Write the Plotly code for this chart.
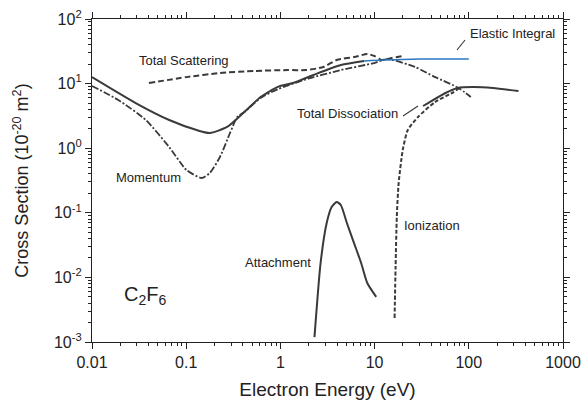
import plotly.graph_objects as go

# ---- data (energy in eV, cross section in 1e-20 m^2) ----
elastic_E = [0.01, 0.0291, 0.066, 0.129, 0.178, 0.272, 0.414, 0.616, 0.94, 1.36, 2.24, 4.38, 7.75]
elastic_S = [12.6, 5.0, 2.73, 1.91, 1.72, 2.13, 3.63, 6.2, 8.9, 10.2, 13.6, 19.4, 22.4]
elastic_int_E = [7.75, 12.7, 30.0, 100.0]
elastic_int_S = [22.4, 23.2, 24.0, 24.0]

momentum_E = [0.01, 0.019, 0.0373, 0.066, 0.1007, 0.146, 0.178, 0.228, 0.292, 0.348, 0.414,
              0.616, 0.94, 2.0, 4.38, 9.9, 13.7, 26.8, 44.0, 78.0, 105.0]
momentum_S = [9.2, 5.57, 2.73, 1.04, 0.46, 0.346, 0.413, 0.73, 1.72, 3.04, 3.63,
              6.0, 8.2, 12.0, 16.2, 20.8, 24.0, 18.1, 12.6, 8.55, 6.2]

scatter_E = [0.0402, 0.1007, 0.228, 0.53, 1.2, 1.88, 2.87, 3.96, 6.05, 8.36, 9.9, 11.8, 15.2, 20.0]
scatter_S = [10.2, 12.6, 14.6, 15.7, 16.2, 16.2, 18.1, 23.2, 25.8, 28.7, 26.8, 23.2, 24.9, 26.8]

dissoc_E = [32.7, 37.0, 56.5, 76.0, 110.0, 181.0, 337.0]
dissoc_S = [4.5, 5.0, 7.15, 8.55, 8.86, 8.55, 7.67]

ion_E = [16.3, 16.7, 17.2, 18.0, 19.9, 22.5, 28.9, 44.0, 69.0, 80.0]
ion_S = [0.00236, 0.0145, 0.086, 0.289, 0.94, 1.91, 3.04, 5.2, 7.4, 8.6]

attach_E = [2.30, 2.67, 3.10, 3.50, 3.96, 4.38, 5.08, 6.05, 7.2, 8.36, 10.4]
attach_S = [0.00119, 0.0167, 0.0695, 0.123, 0.147, 0.132, 0.0695, 0.034, 0.0167, 0.0082, 0.0050]

x_tickvals = [0.01, 0.1, 1, 10, 100, 1000]
x_ticktext = ["0.01", "0.1", "1", "10", "100", "1000"]
y_tickvals = [1e-3, 1e-2, 1e-1, 1, 10, 100]
y_ticktext = ["10<sup>-3</sup>", "10<sup>-2</sup>", "10<sup>-1</sup>",
              "10<sup>0</sup>", "10<sup>1</sup>", "10<sup>2</sup>"]
minor_digits = [2, 3, 4, 5, 6, 7, 8, 9]

DARK = "#3a3a3a"
BLUE = "#2b78c2"
FONT = "Liberation Sans, Arial, sans-serif"

fig = go.Figure()

def add(x, y, color=DARK, width=2, dash="solid"):
    fig.add_trace(go.Scatter(x=x, y=y, mode="lines", line=dict(color=color, width=width, dash=dash,
                                                                shape="spline", smoothing=0.6),
                             showlegend=False, hoverinfo="skip"))

add(scatter_E, scatter_S, width=2, dash="6px,3px")
add(momentum_E, momentum_S, width=1.8, dash="7px,2px,2px,2px")
add(elastic_E, elastic_S, width=2)
add(elastic_int_E, elastic_int_S, color=BLUE, width=1.6)
add(ion_E, ion_S, width=2, dash="4px,2px")
add(dissoc_E, dissoc_S, width=2)
add(attach_E, attach_S, width=2)

L, R, T, B = 92, 21, 19, 58
W, H = 584, 400
pw, ph = W - L - R, H - T - B

def px(x):
    return (x - L) / pw

def py(y):
    return (H - B - y) / ph

TXT = dict(family=FONT, size=13, color="#222")

labels = [
    ("Total Scattering", 184, 61),
    ("Elastic Integral", 512, 34),
    ("Total Dissociation", 347, 114),
    ("Momentum", 148, 177),
    ("Attachment", 278, 262),
    ("Ionization", 432, 225),
]
for text, x, y in labels:
    fig.add_annotation(text=text, x=px(x), y=py(y), xref="paper", yref="paper",
                       showarrow=False, font=TXT, xanchor="center", yanchor="middle")

fig.add_annotation(text="C<sub>2</sub>F<sub>6</sub>", x=px(145), y=py(295), xref="paper", yref="paper",
                   showarrow=False, xanchor="center", yanchor="middle",
                   font=dict(family=FONT, size=20, color="#222"))

# leader lines
for (x0, y0, x1, y1) in [(457, 50, 465, 40), (403, 116, 418, 106)]:
    fig.add_shape(type="line", xref="paper", yref="paper",
                  x0=px(x0), y0=py(y0), x1=px(x1), y1=py(y1),
                  line=dict(color=DARK, width=1.2))

def minor_vals(lo, hi):
    return [d * 10 ** e for e in range(lo, hi) for d in minor_digits]

def axis_common(mv):
    return dict(
        type="log", showgrid=False, zeroline=False, showline=True, linecolor="#222", linewidth=1.3,
        mirror="ticks", ticks="outside", ticklen=6, tickwidth=1.2, tickcolor="#222",
        minor=dict(tickmode="array", tickvals=mv, ticks="outside", ticklen=3, tickwidth=1,
                   tickcolor="#222", showgrid=False),
        tickfont=dict(family=FONT, size=16, color="#222"),
    )

fig.update_xaxes(range=[-2, 3], tickvals=x_tickvals, ticktext=x_ticktext,
                 title=dict(text="Electron Energy (eV)", standoff=12,
                            font=dict(family=FONT, size=19, color="#222")),
                 **axis_common(minor_vals(-2, 3)))
fig.update_yaxes(range=[-3, 2], tickvals=y_tickvals, ticktext=y_ticktext,
                 title=dict(text="Cross Section (10<sup>-20</sup> m<sup>2</sup>)", standoff=20,
                            font=dict(family=FONT, size=18, color="#222")),
                 **axis_common(minor_vals(-3, 2)))

fig.update_layout(width=W, height=H, margin=dict(l=L, r=R, t=T, b=B, autoexpand=False),
                  paper_bgcolor="white", plot_bgcolor="white")

fig.write_html("out.html", config={"displayModeBar": False},
               post_script="document.body.style.margin='0';document.body.style.overflow='hidden';")
